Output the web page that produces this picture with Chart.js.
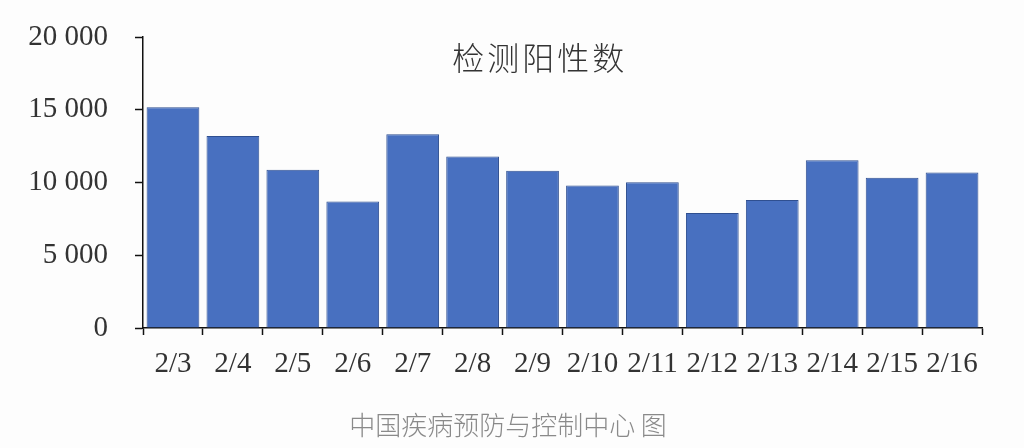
<!DOCTYPE html>
<html>
<head>
<meta charset="utf-8">
<script src="https://cdn.jsdelivr.net/npm/chart.js@4"></script>
<style>
  html, body { margin: 0; padding: 0; background: #fdfdfd; }
  #wrap { width: 1024px; height: 448px; }
</style>
</head>
<body>
<div id="wrap"><canvas id="chart"></canvas></div>
<script>
// 检测阳性数, 2/3 - 2/16
const days = ['2/3', '2/4', '2/5', '2/6', '2/7', '2/8', '2/9', '2/10', '2/11', '2/12', '2/13', '2/14', '2/15', '2/16'];
const positives = [15170, 13200, 10870, 8690, 13310, 11780, 10800, 9790, 10010, 7910, 8800, 11530, 10320, 10680];
const yTicks = [0, 5000, 10000, 15000, 20000];
const chartTitle = '检测阳性数';
const sourceNote = '中国疾病预防与控制中心 图';

const fmt = (v) => String(v).replace(/\B(?=(\d{3})+(?!\d))/g, ' ');

// title sits inside the plot a bit left of centre, source note under the axis
const texts = {
    id: 'texts',
    afterDraw(chart) {
        const { ctx, chartArea, width, height } = chart;
        ctx.save();
        ctx.textAlign = 'center';
        ctx.textBaseline = 'middle';
        ctx.font = '300 32px "Noto Sans CJK SC"';
        ctx.letterSpacing = '3px';
        ctx.fillStyle = '#333333';
        ctx.fillText(chartTitle, chartArea.left + chartArea.width * 0.473, chartArea.top + 21);
        ctx.font = '300 26px "Noto Sans CJK SC"';
        ctx.letterSpacing = '0px';
        ctx.fillStyle = '#8a8a8a';
        ctx.fillText(sourceNote, width / 2 - 4, height - 23);
        ctx.restore();
    }
};

const ctx = document.getElementById('chart').getContext('2d');
new Chart(ctx, {
    type: 'bar',
    data: {
        labels: days,
        datasets: [{
            data: positives,
            backgroundColor: '#4870c0',
            borderColor: '#2f4f90',
            borderWidth: 1,
            barPercentage: 0.88,
            categoryPercentage: 1
        }]
    },
    options: {
        responsive: true,
        maintainAspectRatio: false,
        animation: false,
        layout: { padding: { top: 37, right: 42, left: 0, bottom: 60 } },
        plugins: {
            legend: { display: false },
            tooltip: { enabled: false },
            title: { display: false }
        },
        scales: {
            x: {
                border: { display: true, color: '#111', width: 1.5 },
                grid: { display: true, drawOnChartArea: false, offset: true, tickLength: 7, color: '#111', tickWidth: 1.5 },
                ticks: {
                    color: '#333',
                    padding: 12,
                    maxRotation: 0,
                    autoSkip: false,
                    font: { family: '"Liberation Serif"', size: 29 }
                },
                afterFit: (s) => { s.height = 60; }
            },
            y: {
                min: 0,
                max: 20000,
                afterBuildTicks: (s) => { s.ticks = yTicks.map(v => ({ value: v })); },
                border: { display: true, color: '#111', width: 1.5 },
                grid: { display: true, drawOnChartArea: false, tickLength: 8, color: '#111', tickWidth: 1.5 },
                ticks: {
                    color: '#333',
                    padding: 27,
                    font: { family: '"Liberation Serif"', size: 29 },
                    callback: (v) => fmt(v)
                },
                afterFit: (s) => { s.width = 143; s.paddingTop = 0; s.paddingBottom = 0; }
            }
        }
    },
    plugins: [texts]
});
</script>
</body>
</html>
